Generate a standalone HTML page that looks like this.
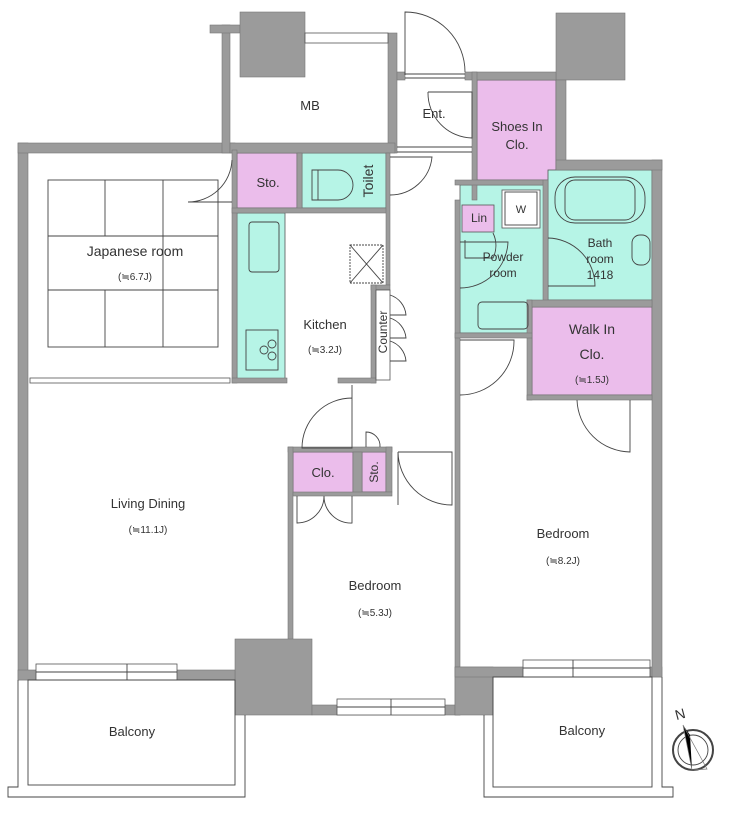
<!DOCTYPE html>
<html><head><meta charset="utf-8"><style>
html,body{margin:0;padding:0;background:#fff;}
svg{display:block}
text{font-family:"Liberation Sans","Noto Sans CJK JP",sans-serif;fill:#333;}
</style></head><body>
<svg width="743" height="817" viewBox="0 0 743 817" xmlns="http://www.w3.org/2000/svg">
<g stroke="#555" stroke-width="0.8">
<rect x="237" y="153" width="60" height="55" fill="#ebbdeb"/>
<rect x="302" y="153" width="84" height="55" fill="#b6f4e6"/>
<rect x="237" y="213" width="48" height="167" fill="#b6f4e6"/>
<rect x="477" y="80" width="79" height="100" fill="#ebbdeb"/>
<rect x="548" y="170" width="104" height="130" fill="#b6f4e6"/>
<rect x="460" y="185" width="85" height="148" fill="#b6f4e6"/>
<rect x="502" y="190" width="38" height="38" fill="#fff"/>
<rect x="462" y="205" width="32" height="27" fill="#ebbdeb"/>
<rect x="532" y="307" width="120" height="88" fill="#ebbdeb"/>
<rect x="293" y="452" width="60" height="41" fill="#ebbdeb"/>
<rect x="362" y="452" width="24" height="40" fill="#ebbdeb"/>
</g>
<g fill="#9b9b9b" stroke="#777" stroke-width="0.6">
<rect x="18" y="143" width="10" height="537"/>
<rect x="18" y="143" width="217" height="10"/>
<rect x="222" y="25" width="8" height="128"/>
<rect x="210" y="25" width="30" height="8"/>
<rect x="240" y="12" width="65" height="65"/>
<rect x="388" y="33" width="9" height="120"/>
<rect x="230" y="143" width="165" height="10"/>
<rect x="232" y="150" width="5" height="233"/>
<rect x="297" y="153" width="5" height="58"/>
<rect x="232" y="208" width="156" height="5"/>
<rect x="386" y="153" width="4" height="132"/>
<rect x="371" y="285" width="19" height="5"/>
<rect x="371" y="285" width="5" height="98"/>
<rect x="232" y="378" width="55" height="5"/>
<rect x="338" y="378" width="38" height="5"/>
<rect x="288" y="447" width="104" height="5"/>
<rect x="288" y="447" width="5" height="193"/>
<rect x="353" y="452" width="9" height="41"/>
<rect x="386" y="447" width="6" height="45"/>
<rect x="293" y="492" width="99" height="4"/>
<rect x="235" y="639" width="77" height="76"/>
<rect x="18" y="670" width="217" height="10"/>
<rect x="312" y="705" width="148" height="10"/>
<rect x="455" y="200" width="5" height="515"/>
<rect x="455" y="667" width="38" height="48"/>
<rect x="455" y="667" width="207" height="10"/>
<rect x="652" y="160" width="10" height="517"/>
<rect x="556" y="13" width="69" height="67"/>
<rect x="556" y="80" width="10" height="90"/>
<rect x="556" y="160" width="106" height="10"/>
<rect x="465" y="72" width="91" height="8"/>
<rect x="472" y="72" width="5" height="128"/>
<rect x="397" y="72" width="8" height="8"/>
<rect x="455" y="180" width="93" height="5"/>
<rect x="543" y="180" width="5" height="125"/>
<rect x="527" y="300" width="125" height="7"/>
<rect x="527" y="300" width="5" height="100"/>
<rect x="527" y="395" width="125" height="5"/>
<rect x="455" y="333" width="77" height="5"/>
</g>
<g fill="#fff" stroke="#555" stroke-width="0.8">
<rect x="305" y="33" width="83" height="10"/>
<rect x="30" y="378" width="200" height="5"/>
<rect x="36" y="664" width="141" height="16"/>
<rect x="337" y="699" width="108" height="16"/>
<rect x="523" y="660" width="127" height="17"/>
<rect x="376" y="290" width="14" height="90"/>
</g>
<g fill="none" stroke="#444" stroke-width="0.9">
<line x1="405" y1="74" x2="465" y2="74"/><line x1="405" y1="78" x2="465" y2="78"/>
<line x1="397" y1="147" x2="472" y2="147"/><line x1="397" y1="152" x2="472" y2="152"/>
<line x1="127" y1="664" x2="127" y2="680"/><line x1="36" y1="672" x2="177" y2="672"/>
<line x1="391" y1="699" x2="391" y2="715"/><line x1="337" y1="707" x2="445" y2="707"/>
<line x1="573" y1="660" x2="573" y2="677"/><line x1="523" y1="668" x2="650" y2="668"/>
<rect x="48" y="180" width="170" height="167"/>
<line x1="105" y1="180" x2="105" y2="236"/><line x1="163" y1="180" x2="163" y2="236"/>
<line x1="48" y1="236" x2="218" y2="236"/><line x1="48" y1="290" x2="218" y2="290"/>
<line x1="105" y1="290" x2="105" y2="347"/><line x1="163" y1="290" x2="163" y2="347"/>
<line x1="163" y1="236" x2="163" y2="290"/>
<rect x="28" y="680" width="207" height="105"/>
<path d="M18 680 V787 H8 V797 H245 V715"/>
<rect x="493" y="677" width="159" height="110"/>
<path d="M484 715 V797 H673 V787 H662 V677"/>
<path d="M232 202 H188 A44 44 0 0 0 232 160"/>
<path d="M390 157 H432 A42 42 0 0 1 390 195"/>
<path d="M405 75 V12 A60 60 0 0 1 465 72"/>
<path d="M428 92 H472 V138 A45 45 0 0 1 428 92"/>
<path d="M352 385 V448 H302 A50 50 0 0 1 352 398"/>
<path d="M398 452 V505 M398 452 H452 V505 A54 54 0 0 1 398 452"/>
<path d="M366 447 V432 A14 14 0 0 1 380 447"/>
<path d="M297 496 V523 A27 27 0 0 0 324 496 A27 27 0 0 0 352 523 V496"/>
<path d="M390 295 A23 23 0 0 1 406 315 H390 M390 318 A23 23 0 0 1 406 338 H390 M390 341 A23 23 0 0 1 406 361 H390"/>
<path d="M460 340 H514 A54 54 0 0 1 460 395"/>
<path d="M577 400 A54 54 0 0 0 630 452 V400"/>
<path d="M465 240 V258 H493 A28 28 0 0 0 493 233"/>
<path d="M460 288 A48 48 0 0 0 508 242 H460"/>
<path d="M548 238 A48 48 0 0 1 595 286 H548"/>
<rect x="555" y="177" width="90" height="46" rx="20"/>
<rect x="565" y="180" width="70" height="40" rx="10"/>
<rect x="632" y="235" width="18" height="30" rx="8"/>
<rect x="478" y="302" width="50" height="27" rx="4"/>
<rect x="505" y="192" width="32" height="33"/>
<rect x="249" y="222" width="30" height="50" rx="3"/>
<rect x="246" y="330" width="32" height="40"/>
<circle cx="264" cy="350" r="4"/><circle cx="272" cy="344" r="4"/><circle cx="272" cy="356" r="4"/>
<path d="M312 170 H338 A15 15 0 0 1 338 200 H312 Z"/><line x1="318" y1="170" x2="318" y2="200"/>
<rect x="350" y="245" width="33" height="38" stroke-dasharray="2 1"/>
<line x1="350" y1="245" x2="383" y2="283"/><line x1="383" y1="245" x2="350" y2="283"/>
<circle cx="693" cy="750" r="20" stroke-width="2"/><circle cx="693" cy="750" r="15"/>
</g>
<path d="M683 725 L692 770 L690 735 Z" fill="#000"/>
<path d="M683 725 L692 770 L707 769 Z" fill="none" stroke="#777" stroke-width="0.7"/>
<text x="675" y="719" font-size="14" font-family="Liberation Serif" transform="rotate(-15 680 714)">N</text>
<g font-size="13" text-anchor="middle">
<text x="310" y="110">MB</text>
<text x="434" y="118">Ent.</text>
<text x="517" y="131">Shoes In</text><text x="517" y="149">Clo.</text>
<text x="268" y="187">Sto.</text>
<text x="135" y="256" font-size="14">Japanese room</text>
<text x="135" y="280" font-size="10">(≒6.7J)</text>
<text x="325" y="329">Kitchen</text>
<text x="325" y="353" font-size="10">(≒3.2J)</text>
<text x="479" y="222" font-size="12">Lin</text>
<text x="521" y="213" font-size="11">W</text>
<text x="503" y="261" font-size="12">Powder</text><text x="503" y="277" font-size="12">room</text>
<text x="600" y="247" font-size="12">Bath</text><text x="600" y="263" font-size="12">room</text><text x="600" y="279" font-size="12">1418</text>
<text x="592" y="334" font-size="14">Walk In</text><text x="592" y="359" font-size="14">Clo.</text>
<text x="592" y="383" font-size="10">(≒1.5J)</text>
<text x="148" y="508">Living Dining</text>
<text x="148" y="533" font-size="10">(≒11.1J)</text>
<text x="323" y="477">Clo.</text>
<text x="375" y="590">Bedroom</text>
<text x="375" y="616" font-size="10">(≒5.3J)</text>
<text x="563" y="538">Bedroom</text>
<text x="563" y="564" font-size="10">(≒8.2J)</text>
<text x="132" y="736">Balcony</text>
<text x="582" y="735">Balcony</text>
</g>
<text transform="translate(378,472) rotate(-90)" font-size="12" text-anchor="middle">Sto.</text>
<text transform="translate(373,181) rotate(-90)" font-size="14" text-anchor="middle">Toilet</text>
<text transform="translate(387,332) rotate(-90)" font-size="12" text-anchor="middle">Counter</text>
</svg>
</body></html>
